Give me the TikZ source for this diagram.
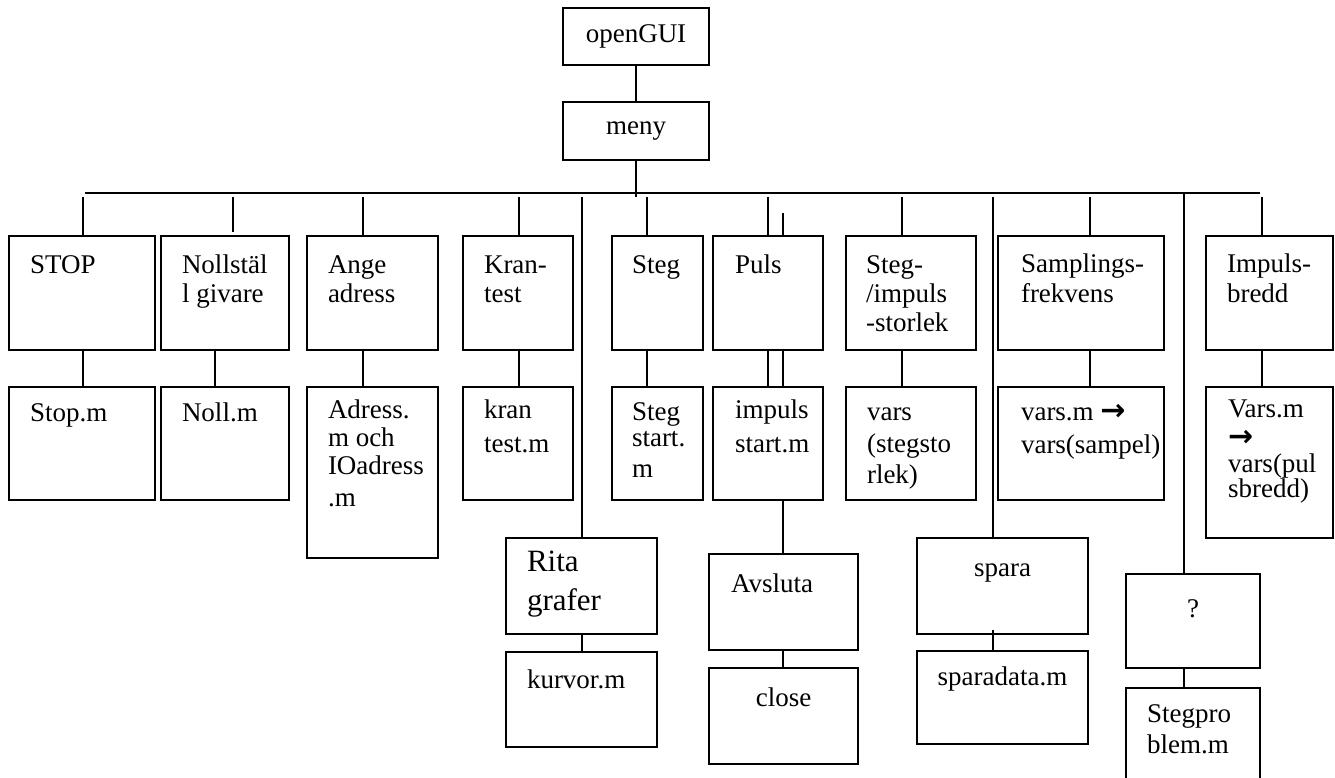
\documentclass[tikz,border=0pt]{standalone}
\usepackage{fontspec}
\setmainfont{Liberation Serif}
\newfontfamily\arrfont{DejaVu Sans}
\tikzset{
  box/.style={draw, line width=1.5pt, inner sep=0pt, outer sep=0pt},
  txt/.style={inner sep=0pt, outer sep=0pt, font=\fontsize{27}{30}\selectfont},
  bigtxt/.style={txt, font=\fontsize{31}{34}\selectfont},
  ln/.style={line width=1.5pt},
}
\newcommand\bx[5]{\node[box,anchor=north west,minimum width={(#4-#2)*1pt},minimum height={(#5-#3)*1pt}] (#1) at (#2,#3) {};}
\newcommand\tx[4]{\node[txt,anchor=base west] (#1) at (#2,#3) {#4};}
\newcommand\tc[4]{\node[txt,anchor=base] (#1) at (#2,#3) {#4};}
\newcommand\arr{{\arrfont\bfseries\fontsize{30}{30}\selectfont →}}
\begin{document}
\begin{tikzpicture}[x=1pt,y=-1pt]
\useasboundingbox (0,0) rectangle (1335,778);
% top
\bx{gui}{563}{8}{709}{65}
\bx{meny}{563}{102}{709}{160}
\node[txt] (tgui) at (gui.center) {openGUI};
\node[txt] (tmeny) at (meny.center) {meny};
% row 1
\bx{stop}{9}{236}{155}{350}
\bx{noll}{161}{236}{289}{350}
\bx{ange}{307}{236}{438}{350}
\bx{kran}{463}{236}{573}{350}
\bx{steg}{612}{236}{703}{350}
\bx{puls}{713}{236}{823}{350}
\bx{simp}{846}{236}{976}{350}
\bx{samp}{998}{236}{1164}{350}
\bx{impb}{1206}{236}{1333}{350}
% row 2
\bx{stopm}{9}{387}{155}{500}
\bx{nollm}{161}{387}{289}{500}
\bx{adrm}{307}{387}{438}{558}
\bx{kranm}{463}{387}{573}{500}
\bx{stegm}{612}{387}{703}{500}
\bx{impsm}{713}{387}{823}{500}
\bx{varsm}{846}{387}{976}{500}
\bx{varsamp}{998}{387}{1164}{500}
\bx{varspul}{1206}{387}{1333}{538}
% row 3 / 4
\bx{rita}{506}{538}{657}{634}
\bx{kurvor}{506}{652}{657}{747}
\bx{avsl}{709}{554}{858}{650}
\bx{close}{709}{668}{858}{764}
\bx{spara}{917}{538}{1088}{634}
\bx{sdata}{917}{651}{1088}{744}
\bx{q}{1126}{574}{1260}{668}
\bx{spro}{1126}{688}{1260}{795}
% texts row 1
\tx{t1}{30}{273}{STOP}
\tx{t2a}{182}{273}{Nollstäl}
\tx{t2b}{182}{302}{l givare}
\tx{t3a}{328}{273}{Ange}
\tx{t3b}{328}{302}{adress}
\tx{t4a}{484}{273}{Kran-}
\tx{t4b}{484}{302}{test}
\tx{t5}{632}{273}{Steg}
\tx{t6}{735}{273}{Puls}
\tx{t7a}{866}{273}{Steg-}
\tx{t7b}{866}{302}{/impuls}
\tx{t7c}{866}{331}{-storlek}
\tx{t8a}{1021}{272}{Samplings-}
\tx{t8b}{1021}{302}{frekvens}
\tx{t9a}{1227}{272}{Impuls-}
\tx{t9b}{1227}{302}{bredd}
% texts row 2
\tx{u1}{30}{421}{Stop.m}
\tx{u2}{182}{421}{Noll.m}
\tx{u3a}{328}{418}{Adress.}
\tx{u3b}{328}{446}{m och}
\tx{u3c}{328}{474}{IOadress}
\tx{u3d}{328}{506}{.m}
\tx{u4a}{484}{418}{kran}
\tx{u4b}{484}{452}{test.m}
\tx{u5a}{632}{420}{Steg}
\tx{u5b}{632}{446}{start.}
\tx{u5c}{632}{477}{m}
\tx{u6a}{735}{418}{impuls}
\tx{u6b}{735}{452}{start.m}
\tx{u7a}{867}{420}{vars}
\tx{u7b}{867}{452}{(stegsto}
\tx{u7c}{867}{483}{rlek)}
\tx{u8a}{1021}{420}{vars.m \arr}
\tx{u8b}{1021}{453}{vars(sampel)}
\tx{u9a}{1228}{417}{Vars.m}
\tx{u9b}{1228}{446}{\arr}
\tx{u9c}{1228}{472}{vars(pul}
\tx{u9d}{1228}{497}{sbredd)}
% texts row 3/4
\node[bigtxt,anchor=base west] (v1a) at (527,571) {Rita};
\node[bigtxt,anchor=base west] (v1b) at (527,610) {grafer};
\tx{v2}{527}{688}{kurvor.m}
\tx{v3}{731}{592}{Avsluta}
\tc{v4}{783.5}{706}{close}
\tc{v5}{1002.5}{576}{spara}
\tc{v6}{1002.5}{685}{sparadata.m}
\tc{v7}{1193}{617}{?}
\tx{v8a}{1147}{722}{Stegpro}
\tx{v8b}{1147}{753}{blem.m}
% helper coordinates
\coordinate (busL) at (85,193);
\coordinate (busR) at (1260,193);
\coordinate (meyb) at (636,197);
% connectors
\draw[ln] (gui.south) -- (meny.north);
\draw[ln] (meny.south) -- (meyb);
\draw[ln] (busL) -- (busR);
\draw[ln] (83,197) -- (stop.north -| 83,0);
\draw[ln] (233,197) -- (233,232);
\draw[ln] (363,197) -- (ange.north -| 363,0);
\draw[ln] (519,197) -- (kran.north -| 519,0);
\draw[ln] (582,197) -- (rita.north -| 582,0);
\draw[ln] (647,197) -- (steg.north -| 647,0);
\draw[ln] (768,197) -- (puls.north -| 768,0);
\draw[ln] (783,213) -- (puls.north -| 783,0);
\draw[ln] (902,197) -- (simp.north -| 902,0);
\draw[ln] (993,197) -- (spara.north -| 993,0);
\draw[ln] (1090,197) -- (samp.north -| 1090,0);
\draw[ln] (1184,193) -- (q.north -| 1184,0);
\draw[ln] (1262,197) -- (impb.north -| 1262,0);
% row1 -> row2
\draw[ln] (stop.south -| 83,0) -- (stopm.north -| 83,0);
\draw[ln] (noll.south -| 215,0) -- (nollm.north -| 215,0);
\draw[ln] (ange.south -| 363,0) -- (adrm.north -| 363,0);
\draw[ln] (kran.south -| 519,0) -- (kranm.north -| 519,0);
\draw[ln] (steg.south -| 647,0) -- (stegm.north -| 647,0);
\draw[ln] (puls.south -| 768,0) -- (impsm.north -| 768,0);
\draw[ln] (puls.south -| 783,0) -- (impsm.north -| 783,0);
\draw[ln] (simp.south -| 902,0) -- (varsm.north -| 902,0);
\draw[ln] (samp.south -| 1090,0) -- (varsamp.north -| 1090,0);
\draw[ln] (impb.south -| 1262,0) -- (varspul.north -| 1262,0);
% lower
\draw[ln] (impsm.south -| 783,0) -- (avsl.north -| 783,0);
\draw[ln] (rita.south -| 582,0) -- (kurvor.north -| 582,0);
\draw[ln] (avsl.south -| 783,0) -- (close.north -| 783,0);
\draw[ln] (993,630) -- (sdata.north -| 993,0);
\draw[ln] (q.south -| 1184,0) -- (spro.north -| 1184,0);
\end{tikzpicture}
\end{document}
